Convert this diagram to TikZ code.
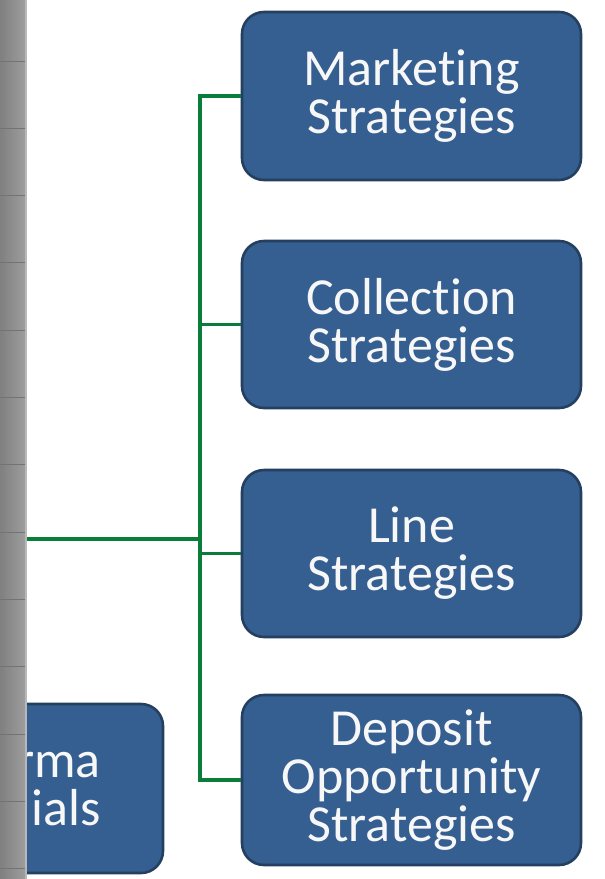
\documentclass[tikz,border=0pt]{standalone}
\usepackage{fontspec}
\setmainfont{Carlito}[RawFeature={-liga}]
\definecolor{boxfill}{HTML}{365F91}
\definecolor{boxline}{HTML}{243F60}
\definecolor{linkgreen}{HTML}{0A7D3B}
\definecolor{textwhite}{HTML}{F7F7F7}
\begin{document}
\begin{tikzpicture}[x=1pt,y=-1pt,
  stratbox/.style={draw=boxline, fill=boxfill, line width=2.6pt,
    rounded corners=22pt, inner sep=0pt, text=textwhite, align=center,
    font=\fontsize{52}{48}\selectfont},
  link/.style={draw=linkgreen, line width=3.6pt}]
\useasboundingbox (0,0) rectangle (605,879);
\fill[white] (0,0) rectangle (605,879);

% partly hidden box at the lower left
\node[stratbox, minimum width=193pt, minimum height=169pt] (fin) at (66.5,788.5) {};
\node[anchor=east, inner sep=0pt, align=right, text=textwhite,
  font=\fontsize{52}{48}\selectfont] (fintext) at (101,789.5) {rma\\ials};

% strategy boxes
\node[stratbox, minimum width=339pt, minimum height=168pt] (mkt) at (411.5,96) {Marketing\\Strategies};
\node[stratbox, minimum width=339pt, minimum height=167pt] (col) at (411.5,324.5) {Collection\\Strategies};
\node[stratbox, minimum width=339pt, minimum height=167pt] (lin) at (411.5,553.5) {Line\\Strategies};
\node[stratbox, minimum width=339pt, minimum height=170pt] (dep) at (411.5,780) {Deposit\\Opportunity\\Strategies};

% connectors
\coordinate (root) at (0,539);
\coordinate (hub) at (200,539);
\draw[link] (root) -- (hub);
\draw[link] (hub) |- (mkt.west);
\draw[link] (hub) |- (col.west);
\draw[link] (hub) |- (lin.west);
\draw[link] (hub) |- (dep.west);

% grey strip on the left edge
\shade[left color=black!50, right color=black!38] (0,0) rectangle (26,879);
\draw[black!28, line width=1.2pt] (26,0) -- (26,879);
\foreach \k in {0,...,12}
  \draw[black!55, line width=0.9pt] (0,61+67.3*\k) -- (25.4,61+67.3*\k);
\end{tikzpicture}
\end{document}
